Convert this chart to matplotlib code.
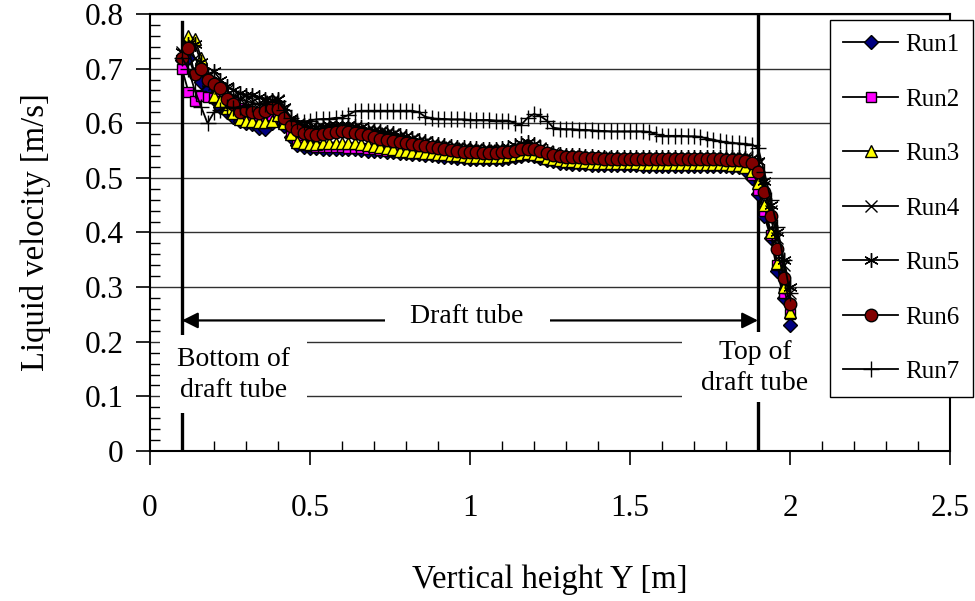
import numpy as np
import matplotlib.pyplot as plt
from matplotlib.patches import Rectangle
from matplotlib.ticker import MultipleLocator

plt.rcParams['font.family'] = ['Liberation Serif', 'DejaVu Serif']

# measuring stations along the column height [m]
height = np.round(np.arange(0.10, 2.001, 0.02), 2)

run1 = [0.715, 0.720, 0.690, 0.675, 0.660, 0.645, 0.630, 0.620, 0.612, 0.605,
        0.600, 0.598, 0.592, 0.590, 0.600, 0.610, 0.595, 0.575, 0.560, 0.556,
        0.555, 0.554, 0.553, 0.553, 0.553, 0.553, 0.552, 0.552, 0.551, 0.550,
        0.550, 0.549, 0.548, 0.547, 0.546, 0.545, 0.544, 0.543, 0.542, 0.541,
        0.540, 0.539, 0.538, 0.537, 0.536, 0.535, 0.535, 0.534, 0.534, 0.534,
        0.535, 0.536, 0.538, 0.540, 0.541, 0.540, 0.537, 0.533, 0.530, 0.528,
        0.527, 0.526, 0.525, 0.525, 0.524, 0.524, 0.524, 0.524, 0.523, 0.523,
        0.523, 0.523, 0.522, 0.522, 0.522, 0.522, 0.522, 0.522, 0.522, 0.522,
        0.522, 0.522, 0.522, 0.522, 0.521, 0.521, 0.520, 0.519, 0.515, 0.500,
        0.470, 0.430, 0.390, 0.330, 0.280, 0.230]

run2 = [0.700, 0.658, 0.640, 0.650, 0.648, 0.646, 0.640, 0.635, 0.643, 0.628,
        0.615, 0.610, 0.605, 0.605, 0.610, 0.615, 0.600, 0.580, 0.565, 0.560,
        0.558, 0.557, 0.556, 0.556, 0.556, 0.556, 0.555, 0.555, 0.554, 0.553,
        0.552, 0.551, 0.550, 0.549, 0.548, 0.547, 0.546, 0.545, 0.544, 0.543,
        0.542, 0.541, 0.540, 0.539, 0.538, 0.537, 0.537, 0.536, 0.536, 0.536,
        0.537, 0.538, 0.540, 0.542, 0.543, 0.542, 0.539, 0.535, 0.532, 0.530,
        0.529, 0.528, 0.527, 0.527, 0.526, 0.526, 0.526, 0.526, 0.525, 0.525,
        0.525, 0.525, 0.525, 0.525, 0.525, 0.525, 0.525, 0.525, 0.525, 0.525,
        0.525, 0.525, 0.525, 0.524, 0.524, 0.524, 0.523, 0.522, 0.519, 0.505,
        0.478, 0.440, 0.395, 0.340, 0.290, 0.250]

run3 = [0.725, 0.760, 0.755, 0.720, 0.680, 0.650, 0.640, 0.628, 0.618, 0.607,
        0.605, 0.605, 0.603, 0.603, 0.605, 0.615, 0.600, 0.580, 0.566, 0.563,
        0.562, 0.562, 0.563, 0.563, 0.564, 0.564, 0.564, 0.563, 0.562, 0.560,
        0.558, 0.556, 0.554, 0.552, 0.550, 0.549, 0.548, 0.547, 0.546, 0.545,
        0.544, 0.543, 0.542, 0.541, 0.540, 0.539, 0.538, 0.538, 0.538, 0.538,
        0.539, 0.540, 0.542, 0.544, 0.545, 0.544, 0.541, 0.537, 0.534, 0.532,
        0.531, 0.530, 0.529, 0.529, 0.528, 0.528, 0.527, 0.527, 0.527, 0.527,
        0.527, 0.527, 0.526, 0.526, 0.526, 0.526, 0.526, 0.526, 0.526, 0.526,
        0.526, 0.526, 0.526, 0.525, 0.525, 0.525, 0.524, 0.523, 0.520, 0.512,
        0.490, 0.450, 0.400, 0.345, 0.300, 0.255]

run4 = [0.730, 0.745, 0.720, 0.700, 0.685, 0.672, 0.665, 0.660, 0.650, 0.645,
        0.640, 0.638, 0.635, 0.638, 0.640, 0.642, 0.625, 0.605, 0.595, 0.590,
        0.590, 0.590, 0.592, 0.593, 0.594, 0.594, 0.593, 0.592, 0.590, 0.588,
        0.586, 0.584, 0.582, 0.580, 0.577, 0.574, 0.571, 0.568, 0.565, 0.562,
        0.560, 0.558, 0.556, 0.555, 0.554, 0.553, 0.552, 0.551, 0.551, 0.551,
        0.552, 0.553, 0.556, 0.560, 0.562, 0.560, 0.555, 0.549, 0.545, 0.542,
        0.541, 0.540, 0.540, 0.539, 0.539, 0.538, 0.538, 0.538, 0.537, 0.537,
        0.537, 0.537, 0.537, 0.537, 0.537, 0.537, 0.537, 0.537, 0.537, 0.537,
        0.537, 0.537, 0.537, 0.537, 0.537, 0.537, 0.537, 0.537, 0.536, 0.535,
        0.525, 0.485, 0.440, 0.390, 0.340, 0.290]

run5 = [0.730, 0.745, 0.745, 0.712, 0.690, 0.695, 0.680, 0.668, 0.660, 0.656,
        0.652, 0.652, 0.648, 0.645, 0.643, 0.645, 0.630, 0.610, 0.600, 0.596,
        0.594, 0.594, 0.595, 0.596, 0.597, 0.597, 0.596, 0.595, 0.593, 0.590,
        0.588, 0.586, 0.584, 0.582, 0.579, 0.576, 0.573, 0.570, 0.567, 0.564,
        0.562, 0.560, 0.558, 0.557, 0.556, 0.555, 0.554, 0.553, 0.553, 0.553,
        0.554, 0.556, 0.560, 0.563, 0.565, 0.562, 0.556, 0.550, 0.546, 0.543,
        0.542, 0.541, 0.541, 0.540, 0.540, 0.539, 0.539, 0.539, 0.538, 0.538,
        0.538, 0.538, 0.538, 0.538, 0.538, 0.538, 0.538, 0.538, 0.538, 0.538,
        0.538, 0.538, 0.538, 0.538, 0.538, 0.538, 0.538, 0.538, 0.537, 0.536,
        0.530, 0.495, 0.450, 0.400, 0.350, 0.300]

run6 = [0.720, 0.737, 0.690, 0.700, 0.680, 0.672, 0.665, 0.645, 0.635, 0.620,
        0.625, 0.620, 0.618, 0.622, 0.628, 0.626, 0.610, 0.595, 0.588, 0.583,
        0.580, 0.578, 0.580, 0.582, 0.584, 0.585, 0.584, 0.582, 0.580, 0.578,
        0.575, 0.572, 0.570, 0.568, 0.566, 0.564, 0.562, 0.560, 0.558, 0.556,
        0.554, 0.552, 0.551, 0.549, 0.548, 0.547, 0.547, 0.546, 0.546, 0.546,
        0.547, 0.548, 0.550, 0.552, 0.553, 0.552, 0.549, 0.545, 0.542, 0.540,
        0.539, 0.538, 0.538, 0.537, 0.537, 0.536, 0.535, 0.535, 0.535, 0.534,
        0.534, 0.534, 0.534, 0.534, 0.534, 0.534, 0.534, 0.534, 0.534, 0.534,
        0.534, 0.534, 0.534, 0.534, 0.534, 0.533, 0.533, 0.532, 0.531, 0.528,
        0.510, 0.475, 0.430, 0.370, 0.316, 0.269]

run7 = [0.720, 0.700, 0.660, 0.630, 0.600, 0.620, 0.625, 0.630, 0.628, 0.630,
        0.632, 0.635, 0.635, 0.635, 0.640, 0.640, 0.625, 0.610, 0.605, 0.603,
        0.605, 0.607, 0.608, 0.608, 0.610, 0.610, 0.615, 0.622, 0.623, 0.623,
        0.623, 0.623, 0.623, 0.623, 0.623, 0.623, 0.623, 0.620, 0.612, 0.609,
        0.608, 0.608, 0.607, 0.607, 0.607, 0.606, 0.606, 0.606, 0.606, 0.605,
        0.605, 0.605, 0.600, 0.597, 0.610, 0.617, 0.613, 0.605, 0.592, 0.590,
        0.589, 0.589, 0.588, 0.588, 0.587, 0.586, 0.586, 0.585, 0.585, 0.585,
        0.585, 0.585, 0.585, 0.584, 0.580, 0.577, 0.577, 0.577, 0.577, 0.576,
        0.576, 0.575, 0.572, 0.570, 0.567, 0.565, 0.564, 0.563, 0.562, 0.561,
        0.555, 0.510, 0.460, 0.410, 0.350, 0.290]

runs = [run1, run2, run3, run4, run5, run6, run7]
labels = ['Run1', 'Run2', 'Run3', 'Run4', 'Run5', 'Run6', 'Run7']

tube_bottom = 0.1
tube_top = 1.9

# marker style per run: (marker, face colour, size)
styles = [('D', '#000080', 7),
          ('s', '#FF00FF', 7.5),
          ('^', '#FFFF00', 8.5),
          ('x', 'black', 8.5),
          ((6, 2, 0), 'black', 10.5),
          ('o', '#800000', 9),
          ('+', 'black', 11.5)]

fig = plt.figure(figsize=(9.75, 6.01), dpi=100)
ax = fig.add_axes([0.1538, 0.2496, 0.8206, 0.7271])

ax.set_xlim(0, 2.5)
ax.set_ylim(0, 0.8)
ax.xaxis.set_major_locator(MultipleLocator(0.5))
ax.xaxis.set_minor_locator(MultipleLocator(0.1))
ax.yaxis.set_major_locator(MultipleLocator(0.1))
ax.yaxis.set_minor_locator(MultipleLocator(0.02))
ax.xaxis.set_major_formatter(plt.FuncFormatter(lambda v, p: f'{v:g}'))
ax.yaxis.set_major_formatter(plt.FuncFormatter(lambda v, p: f'{v:g}'))

ax.tick_params(axis='both', which='major', direction='out', length=10,
               width=1.2, labelsize=22.5)
ax.tick_params(axis='both', which='minor', direction='in', length=7, width=1)
ax.tick_params(axis='x', which='major', pad=21)
ax.tick_params(axis='y', which='major', pad=9)

ax.grid(axis='y', which='major', color='#303030', linewidth=1)
ax.set_axisbelow(True)
for s in ax.spines.values():
    s.set_linewidth(1.5)

# draft tube ends
ax.plot([tube_bottom, tube_bottom], [0, 0.785], color='black', lw=2.4, zorder=2)
ax.plot([tube_top, tube_top], [0, 0.8], color='black', lw=2.4, zorder=2)

# double arrow spanning the tube
ax.annotate('', xy=(tube_bottom, 0.239), xytext=(tube_top, 0.239),
            arrowprops=dict(arrowstyle='<|-|>', color='black', lw=1.6,
                            mutation_scale=24, shrinkA=0, shrinkB=0),
            zorder=2)

# white label boxes
for x0, y0, w, h in [(0.03, 0.07, 0.46, 0.143),
                     (0.734, 0.207, 0.516, 0.07),
                     (1.663, 0.09, 0.5, 0.128)]:
    ax.add_patch(Rectangle((x0, y0), w, h, facecolor='white',
                           edgecolor='none', zorder=3))

ax.text(0.26, 0.139, 'Bottom of\ndraft tube', ha='center', va='center',
        fontsize=20, linespacing=1.3, zorder=4)
ax.text(0.99, 0.246, 'Draft tube', ha='center', va='center',
        fontsize=20, zorder=4)
ax.text(1.89, 0.152, 'Top of\ndraft tube', ha='center', va='center',
        fontsize=20, linespacing=1.3, zorder=4)

for vals, lab, (mk, fc, ms) in zip(runs, labels, styles):
    ax.plot(height, vals, color='black', lw=1.3, marker=mk, markersize=ms,
            markerfacecolor=fc, markeredgecolor='black', markeredgewidth=1,
            label=lab, zorder=5)

ax.set_xlabel('Vertical height Y [m]', fontsize=23.5, labelpad=30)
ax.set_ylabel('Liquid velocity [m/s]', fontsize=23.5, labelpad=24)

leg = ax.legend(loc='upper left', bbox_to_anchor=(0.851, 0.967),
                bbox_transform=fig.transFigure, borderaxespad=0,
                fontsize=18, frameon=True, fancybox=False, framealpha=1,
                edgecolor='black', labelspacing=1.28, handlelength=2.2,
                handletextpad=0.25, borderpad=0.55)
leg.get_frame().set_linewidth(1)
leg.set_zorder(10)

fig.savefig('out.png', dpi=100)
